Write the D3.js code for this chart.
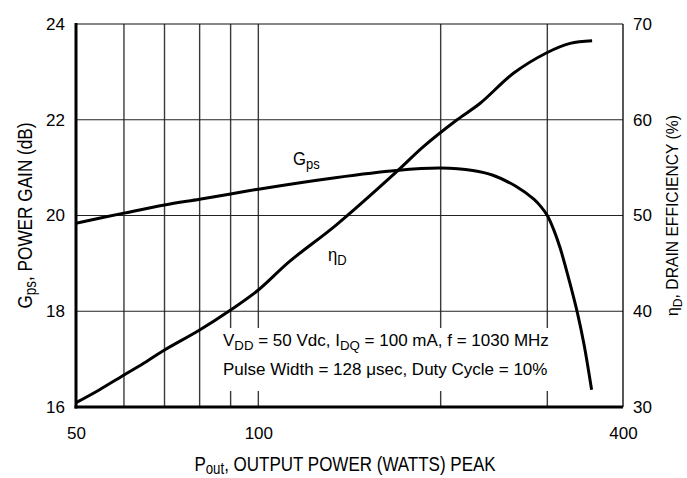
<!DOCTYPE html>
<html>
<head>
<meta charset="utf-8">
<script src="https://cdn.jsdelivr.net/npm/d3@7"></script>
<style>
  html, body { margin: 0; padding: 0; background: #fff; }
  svg { display: block; }
  text { font-family: 'Liberation Sans', Arial, Helvetica, sans-serif; fill: #000; }
</style>
</head>
<body>
<svg id="chart" width="687" height="478"></svg>
<script>
// Power gain (dB) vs. peak output power (W)
const gainPower = [50, 60, 70, 80, 90, 100, 134, 169, 200, 226, 244, 267, 285, 293, 300, 307, 315, 327, 337, 345, 355];
const gainValues = [19.84, 20.05, 20.22, 20.34, 20.45, 20.55, 20.79, 20.94, 20.99, 20.94, 20.84, 20.60, 20.34, 20.18, 20.0, 19.72, 19.32, 18.58, 17.92, 17.30, 16.36];

// Drain efficiency (%) vs. peak output power (W)
const effPower = [50, 54.6, 60, 65.3, 70, 80, 90, 100, 112.5, 134.4, 169.2, 187.3, 212.6, 232.4, 263.7, 299.4, 327.2, 355.7];
const effValues = [30.45, 31.78, 33.34, 34.73, 35.95, 38.04, 40.13, 42.22, 45.18, 49.0, 54.58, 57.19, 59.97, 61.72, 64.85, 67.0, 67.98, 68.26];

// Axis ticks
const xGrid = [50, 60, 70, 80, 90, 100, 200, 300, 400];
const xLabels = [50, 100, 400];
const gainTicks = [16, 18, 20, 22, 24];
const effTicks = [30, 40, 50, 60, 70];

const svg = d3.select("#chart");
const plot = { left: 76, right: 623, top: 24, bottom: 407 };

const x = d3.scaleLog().domain([50, 400]).range([plot.left, plot.right]);
const yGain = d3.scaleLinear().domain([16, 24]).range([plot.bottom, plot.top]);
const yEff = d3.scaleLinear().domain([30, 70]).range([plot.bottom, plot.top]);

// Grid
const grid = svg.append("g");
grid.selectAll("line.v").data(xGrid.slice(1, -1)).join("line")
  .attr("x1", d => x(d)).attr("x2", d => x(d))
  .attr("y1", plot.top).attr("y2", plot.bottom)
  .attr("stroke", "#3a3a3a").attr("stroke-width", 1.4);
grid.selectAll("line.h").data(gainTicks.slice(1, -1)).join("line")
  .attr("x1", plot.left).attr("x2", plot.right)
  .attr("y1", d => yGain(d)).attr("y2", d => yGain(d))
  .attr("stroke", "#222").attr("stroke-width", 1.1);

// Frame: thin top/right, heavy left/bottom
svg.append("line").attr("x1", plot.left).attr("x2", plot.right).attr("y1", plot.top).attr("y2", plot.top)
  .attr("stroke", "#111").attr("stroke-width", 1.2);
svg.append("line").attr("x1", plot.right).attr("x2", plot.right).attr("y1", plot.top).attr("y2", plot.bottom)
  .attr("stroke", "#111").attr("stroke-width", 1.4);

// Conditions box (masks grid behind the note)
svg.append("rect").attr("x", 216).attr("y", 328).attr("width", 350).attr("height", 63).attr("fill", "#fff");

// Curves
const smooth = d3.curveCatmullRom.alpha(0.5);
const gainLine = d3.line().x((d, i) => x(gainPower[i])).y(d => yGain(d)).curve(smooth);
const effLine = d3.line().x((d, i) => x(effPower[i])).y(d => yEff(d)).curve(smooth);
svg.append("path").attr("d", gainLine(gainValues)).attr("fill", "none")
  .attr("stroke", "#000").attr("stroke-width", 3).attr("stroke-linecap", "butt").attr("stroke-linejoin", "round");
svg.append("path").attr("d", effLine(effValues)).attr("fill", "none")
  .attr("stroke", "#000").attr("stroke-width", 3).attr("stroke-linecap", "butt").attr("stroke-linejoin", "round");

svg.append("line").attr("x1", plot.left).attr("x2", plot.left).attr("y1", plot.top - 1).attr("y2", plot.bottom + 1.5)
  .attr("stroke", "#000").attr("stroke-width", 3);
svg.append("line").attr("x1", plot.left - 1.5).attr("x2", plot.right).attr("y1", plot.bottom).attr("y2", plot.bottom)
  .attr("stroke", "#000").attr("stroke-width", 3);

// Tick labels via d3 axes (labels only)
const tickSize = 17;
const leftAxis = svg.append("g").attr("transform", `translate(${plot.left},0)`)
  .call(d3.axisLeft(yGain).tickValues(gainTicks).tickSize(0).tickPadding(11).tickFormat(d3.format("d")));
const rightAxis = svg.append("g").attr("transform", `translate(${plot.right},0)`)
  .call(d3.axisRight(yEff).tickValues(effTicks).tickSize(0).tickPadding(10).tickFormat(d3.format("d")));
const bottomAxis = svg.append("g").attr("transform", `translate(0,${plot.bottom})`)
  .call(d3.axisBottom(x).tickValues(xLabels).tickSize(0).tickPadding(20).tickFormat(d3.format("d")));
[leftAxis, rightAxis, bottomAxis].forEach(g => {
  g.select(".domain").remove();
  g.selectAll("text").attr("font-size", tickSize).attr("font-family", null).style("fill", "#000");
});
bottomAxis.selectAll("text").attr("dy", "0.72em");

// Text with subscripts, optionally rotated and horizontally condensed
function richText(parent, parts, o) {
  const g = parent.append("g")
    .attr("transform", `translate(${o.x},${o.y})${o.rotate ? ` rotate(${o.rotate})` : ""} scale(${o.sx || 1},1)`);
  const t = g.append("text").attr("font-size", o.size).attr("text-anchor", o.anchor || "start");
  const drop = o.drop || 0.22;
  parts.forEach(p => {
    const s = t.append("tspan").text(p.t);
    if (p.sub) s.attr("font-size", o.size * 0.78).attr("dy", o.size * drop);
    if (p.up) s.attr("dy", -o.size * drop);
  });
  return t;
}

// Axis titles
const midY = (plot.top + plot.bottom) / 2;
richText(svg, [{ t: "G" }, { t: "ps", sub: true }, { t: ", POWER GAIN (dB)", up: true }],
  { x: 32, y: midY, rotate: -90, size: 20, sx: 0.86, anchor: "middle" });
richText(svg, [{ t: "η" }, { t: "D", sub: true }, { t: ", DRAIN EFFICIENCY (%)", up: true }],
  { x: 678, y: midY, rotate: -90, size: 16.5, sx: 0.95, anchor: "middle" });
richText(svg, [{ t: "P" }, { t: "out", sub: true }, { t: ", OUTPUT POWER (WATTS) PEAK", up: true }],
  { x: 345, y: 471, size: 20, sx: 0.85, anchor: "middle", drop: 0.17 });

// Curve labels
richText(svg, [{ t: "G" }, { t: "ps", sub: true }], { x: 293, y: 165, size: 18.5, sx: 0.9 });
richText(svg, [{ t: "η" }, { t: "D", sub: true }], { x: 328, y: 261, size: 18.5, sx: 0.9 });

// Test conditions
richText(svg, [{ t: "V" }, { t: "DD", sub: true }, { t: " = 50 Vdc, I", up: true }, { t: "DQ", sub: true }, { t: " = 100 mA, f = 1030 MHz", up: true }],
  { x: 223, y: 346, size: 17 });
richText(svg, [{ t: "Pulse Width = 128 μsec, Duty Cycle = 10%" }], { x: 223, y: 375, size: 17 });
</script>
</body>
</html>
